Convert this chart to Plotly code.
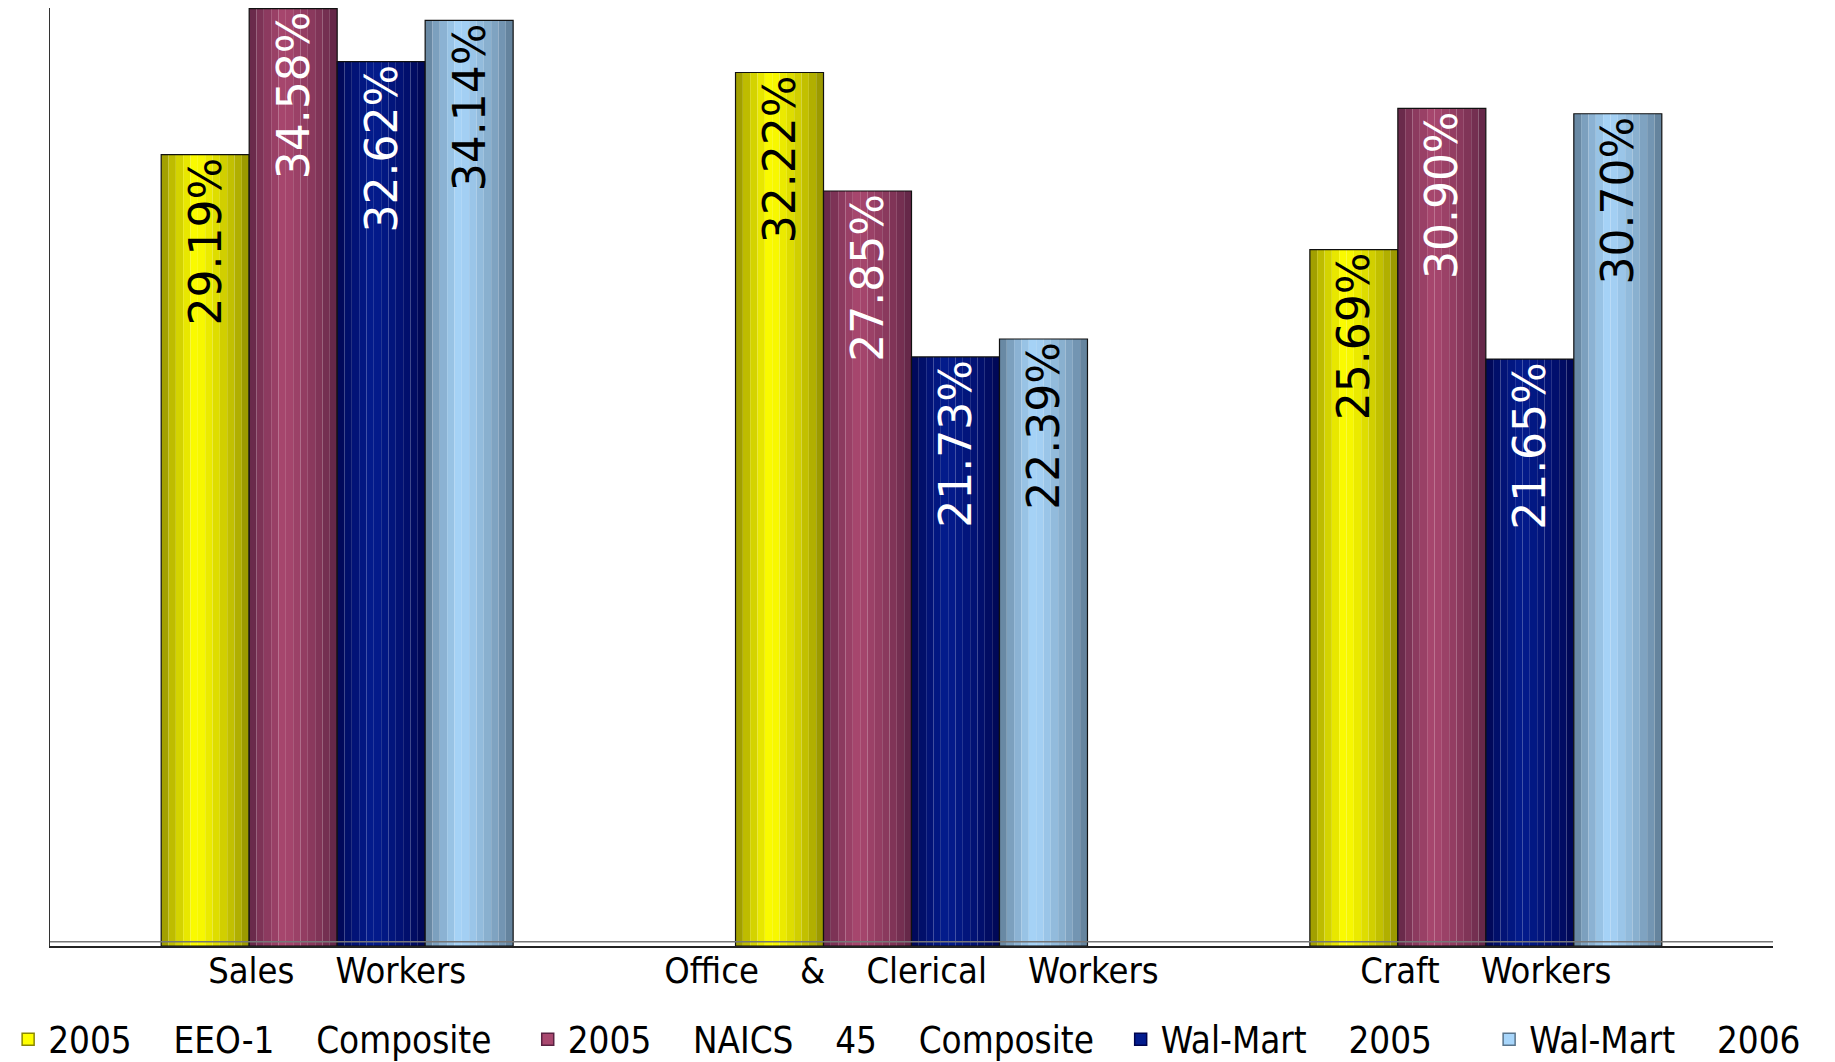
import plotly.graph_objects as go

categories = ['Sales Workers', 'Office & Clerical Workers', 'Craft Workers']
series_names = ['2005 EEO-1 Composite', '2005 NAICS 45 Composite', 'Wal-Mart 2005', 'Wal-Mart 2006']
eeo_2005 = [29.19, 32.22, 25.69]
naics_2005 = [34.58, 27.85, 30.90]
walmart_2005 = [32.62, 21.73, 21.65]
walmart_2006 = [34.14, 22.39, 30.70]
series = [eeo_2005, naics_2005, walmart_2005, walmart_2006]

# cylinder look: edge colour -> centre colour
edge_colors = ['#8a8700', '#5a2242', '#00044e', '#59758d']
mid_colors = ['#ffff00', '#a9486f', '#031c8e', '#a8d6fb']
text_colors = ['black', 'white', 'white', 'black']

nb = '\u00a0'
cat_labels = [c.replace(' ', nb * 4) for c in categories]
trail = [3, 0, 5, 0]
leg_labels = [s.replace(' ', nb * 4) + nb * trail[i] for i, s in enumerate(series_names)]
leg_group = ['legend', 'legend', 'legend2', 'legend2']

label_font = 'DejaVu Sans Condensed, DejaVu Sans, sans-serif'


def mix(c1, c2, w):
    a = [int(c1[j:j + 2], 16) for j in (1, 3, 5)]
    b = [int(c2[j:j + 2], 16) for j in (1, 3, 5)]
    return 'rgb(%d,%d,%d)' % tuple(round(a[n] + (b[n] - a[n]) * w) for n in range(3))


bw = 0.1532
start = -2 * bw
n_strips = 12

fig = go.Figure()

for i, name in enumerate(series_names):
    fig.add_trace(go.Bar(x=cat_labels, y=[None] * 3, name=leg_labels[i], legend=leg_group[i],
                         marker=dict(color=mid_colors[i], line=dict(color=edge_colors[i], width=1.5))))

for i, vals in enumerate(series):
    for k in range(n_strips):
        t = (k + 0.5) / n_strips
        w = t / 0.4 if t < 0.4 else (1 - t) / 0.6
        w = min(1, w) ** 0.7
        fig.add_trace(go.Bar(x=cat_labels, y=vals, width=bw / n_strips,
                             offset=start + i * bw + k * bw / n_strips,
                             marker=dict(color=mix(edge_colors[i], mid_colors[i], w), line=dict(width=0)),
                             showlegend=False, hoverinfo='skip'))
    fig.add_trace(go.Bar(x=cat_labels, y=vals, width=bw, offset=start + i * bw,
                         marker=dict(color='rgba(0,0,0,0)', line=dict(color='#111111', width=1.2)),
                         text=[f'{v:.2f}%' for v in vals], textposition='inside',
                         insidetextanchor='end', textangle=-90, constraintext='none',
                         textfont=dict(family='DejaVu Sans', size=44, color=text_colors[i]),
                         cliponaxis=False, showlegend=False, hoverinfo='skip'))

leg_style = dict(orientation='h', xanchor='left', y=-0.100, yanchor='middle',
                 font=dict(family=label_font, size=36.5, color='black'), traceorder='normal')

fig.update_layout(
    width=1835, height=1062,
    barmode='overlay',
    plot_bgcolor='white', paper_bgcolor='white',
    margin=dict(l=42, r=70, t=0, b=124),
    showlegend=True,
    legend=dict(x=-0.0243, **leg_style),
    legend2=dict(x=0.6214, **leg_style),
    shapes=[dict(type='line', xref='paper', yref='paper', x0=0, x1=1, y0=0.0045, y1=0.0045,
                 line=dict(color='#777777', width=1.5), layer='above')],
)
fig.update_xaxes(type='category', showline=True, linecolor='#222222', linewidth=2,
                 showgrid=False, ticks='', ticklabelstandoff=-8,
                 tickfont=dict(family=label_font, size=36, color='black'))
fig.update_yaxes(range=[0, 34.6], showline=True, linecolor='#333333', linewidth=1,
                 showgrid=False, zeroline=False, showticklabels=False, ticks='')

fig.write_html('out.html')
